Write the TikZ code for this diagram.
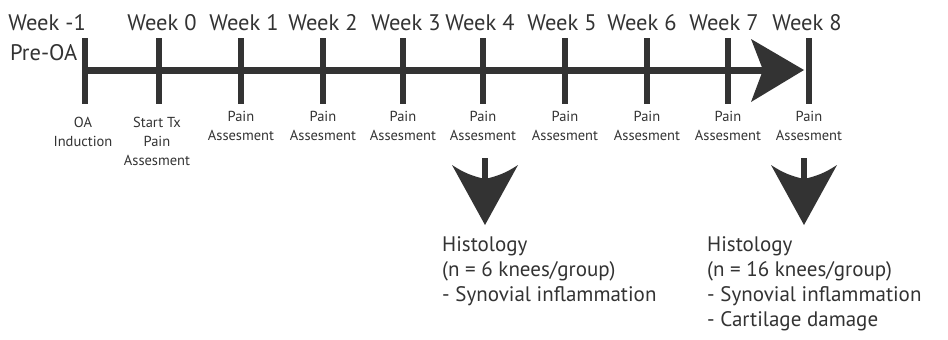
\documentclass[tikz,border=0pt]{standalone}
\usepackage{fontspec}
\setmainfont{PT Sans}
\definecolor{ink}{HTML}{333333}
\begin{document}
\begin{tikzpicture}[x=1pt,y=-1pt,
  tick/.style={line width=6pt, draw=ink},
  week/.style={text=ink, font=\fontsize{22.5}{20}\selectfont, inner sep=0pt, anchor=base},
  small/.style={text=ink, font=\fontsize{14.5}{19}\selectfont, inner sep=0pt, align=center, anchor=north},
  hist/.style={text=ink, font=\fontsize{21}{25.3}\selectfont, inner sep=0pt, align=left, anchor=north west},
  head/.style={fill=ink, draw=none}]
\useasboundingbox (0,0) rectangle (948,340);
\fill[white] (0,0) rectangle (948,340);
% tick coordinates
\foreach \n/\x in {m1/85, w0/159, w1/241, w2/323, w3/403, w4/483, w5/565, w6/647, w7/728, w8/809} {
  \coordinate (t\n) at (\x,38);
  \coordinate (b\n) at (\x,104);
}
\coordinate (start) at (85,70);
\coordinate (shaftend) at (766,70);
\draw[line width=7pt, draw=ink] (start) -- (shaftend);
\foreach \n in {m1,w0,w1,w2,w3,w4,w5,w6,w7,w8} {\draw[tick] (t\n) -- (b\n);}
% right arrowhead
\fill[head] (751,39) -- (804,70) -- (751,102) -- (763,70) -- cycle;
% week labels
\node[week, anchor=base east] (lm1) at (86,30) {Week -1};
\node[week, anchor=base west] (pre) at (10,60) {Pre-OA};
\node[week] (l0) at (162,30) {Week 0};
\node[week] (l1) at (244,30) {Week 1};
\node[week] (l2) at (323,30) {Week 2};
\node[week] (l3) at (406,30) {Week 3};
\node[week] (l4) at (480,30) {Week 4};
\node[week] (l5) at (562,30) {Week 5};
\node[week] (l6) at (642,30) {Week 6};
\node[week] (l7) at (724,30) {Week 7};
\node[week] (l8) at (807,30) {Week 8};
% small labels
\node[small] (sm1) at (83,117) {OA\\Induction};
\node[small] (s0) at (157,117) {Start Tx\\Pain\\Assesment};
\foreach \n/\x in {1/241, 2/323, 3/403, 4/483, 5/565, 6/647, 7/728, 8/809} {
  \node[small] (s\n) at (\x,111) {Pain\\Assesment};
}
% down arrows
\coordinate (da1) at (485,158);
\coordinate (da1e) at (485,182);
\draw[line width=6pt, draw=ink] (da1) -- (da1e);
\fill[head] (452,165) to[bend right=10] (485,179) to[bend right=10] (518,165) -- (485,225) -- cycle;
\coordinate (da2) at (804,158);
\coordinate (da2e) at (804,182);
\draw[line width=6pt, draw=ink] (da2) -- (da2e);
\fill[head] (771,165) to[bend right=10] (804,179) to[bend right=10] (837,165) -- (804,225) -- cycle;
% histology text
\node[hist] (h1) at (442,236) {Histology\\(n = 6 knees/group)\\- Synovial inflammation};
\node[hist] (h2) at (707,236) {Histology\\(n = 16 knees/group)\\- Synovial inflammation\\- Cartilage damage};
\end{tikzpicture}
\end{document}
